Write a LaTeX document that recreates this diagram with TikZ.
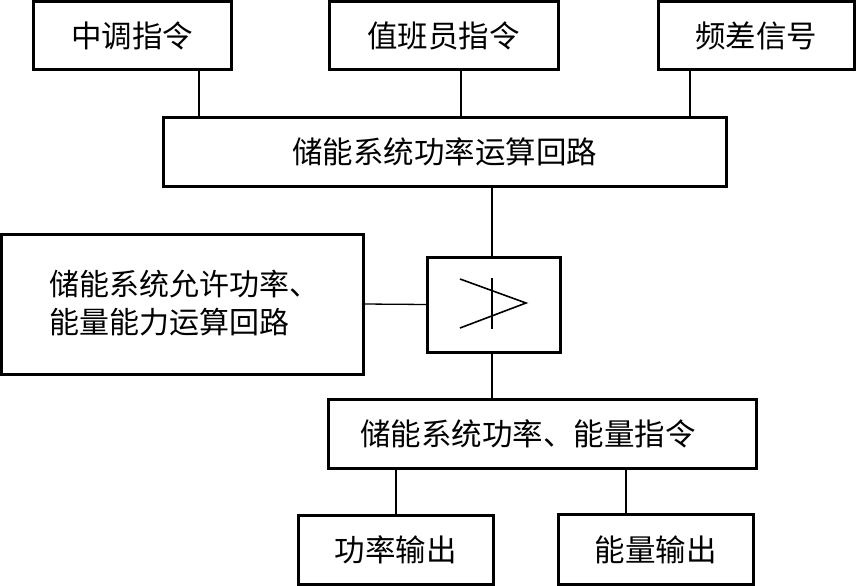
\documentclass[tikz,border=0pt]{standalone}
\usepackage{fontspec}
\newfontfamily\cjk{Noto Sans CJK SC}
\begin{document}
\begin{tikzpicture}[x=1pt,y=-1pt,
  box/.style={draw, line width=3pt, inner sep=0pt, outer sep=0pt,
    font=\cjk\fontsize{30.5}{36}\selectfont},
  conn/.style={line width=1.3pt},
  sym/.style={line width=1.6pt}]
\useasboundingbox (0,0) rectangle (857,586);
% top row
\node[box, minimum width=198pt, minimum height=68.5pt] (zd) at (132,35.75) {中调指令};
\node[box, minimum width=229pt, minimum height=68.5pt] (zb) at (443.5,35.75) {值班员指令};
\node[box, minimum width=196pt, minimum height=68.5pt] (pc) at (756,35.75) {频差信号};
% main
\node[box, minimum width=563pt, minimum height=69pt] (main) at (444.5,151.5) {储能系统功率运算回路};
% left box
\node[box, minimum width=361.5pt, minimum height=140pt] (left) at (182.25,304) {};
\node[font=\cjk\fontsize{30}{38}\selectfont, align=left, anchor=west, inner sep=0pt] (lefttext) at (49,303) {储能系统允许功率、\\能量能力运算回路};
% amplifier
\node[box, minimum width=133pt, minimum height=95pt] (amp) at (493.5,304.5) {};
\draw[sym] (460,279) -- (526,303) -- (460,328);
\draw[sym] (492,278) -- (492,329);
% lower
\node[box, minimum width=428pt, minimum height=69pt] (low) at (542,433.5) {\hspace*{-28pt}储能系统功率、能量指令};
\node[box, minimum width=195pt, minimum height=69.5pt] (gl) at (395.5,549.75) {功率输出};
\node[box, minimum width=195pt, minimum height=69.5pt] (nl) at (655.5,549.5) {能量输出};
% connector coordinates
\coordinate (c1) at (199,0);
\coordinate (c2) at (461,0);
\coordinate (c3) at (690,0);
\coordinate (c4) at (492,0);
\coordinate (c5) at (396,0);
\coordinate (c6) at (626,0);
\draw[conn] (zd.south -| c1) -- (main.north -| c1);
\draw[conn] (zb.south -| c2) -- (main.north -| c2);
\draw[conn] (pc.south -| c3) -- (main.north -| c3);
\draw[conn] (main.south -| c4) -- (amp.north -| c4);
\draw[conn] (left.east) -- (amp.west);
\draw[conn] (amp.south -| c4) -- (low.north -| c4);
\draw[conn] (low.south -| c5) -- (gl.north -| c5);
\draw[conn] (low.south -| c6) -- (nl.north -| c6);
\end{tikzpicture}
\end{document}
